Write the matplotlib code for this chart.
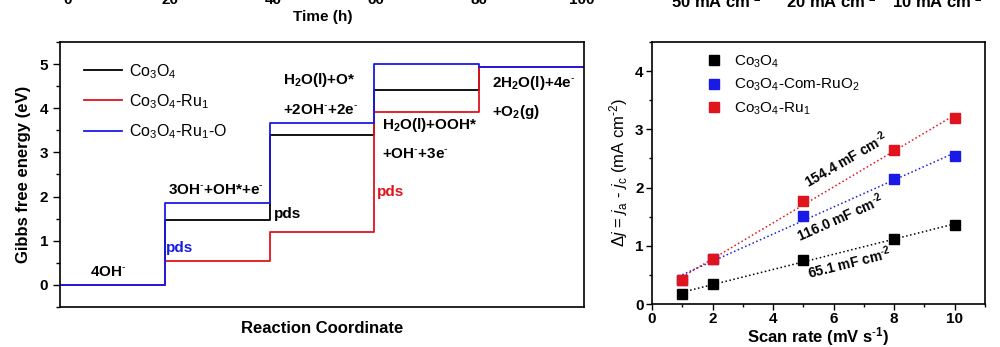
"""Gibbs free energy diagram + double-layer capacitance fit (two panels)."""

import matplotlib
matplotlib.use("Agg")
import matplotlib.pyplot as plt
import numpy as np
from matplotlib.ticker import MultipleLocator

plt.rcParams["font.family"] = ["Liberation Sans", "DejaVu Sans"]
plt.rcParams["mathtext.fontset"] = "custom"
plt.rcParams["mathtext.rm"] = "Liberation Sans"
plt.rcParams["mathtext.it"] = "Liberation Sans:italic"
plt.rcParams["mathtext.bf"] = "Liberation Sans:bold"
plt.rcParams["mathtext.default"] = "regular"

M = r"^{\text{-}}"  # small hyphen superscript, as in the original figure

# --- left panel: free energy of each OER step (eV) ---
steps = [0, 1, 2, 3, 4, 5]
g_co3o4 = [0.0, 1.47, 3.40, 4.42, 4.93]
g_ru1 = [0.0, 0.55, 1.20, 3.91, 4.93]
g_ru1_o = [0.0, 1.85, 3.67, 5.00, 4.93]
energy_series = [
    ("Co$_3$O$_4$", g_co3o4, "black"),
    ("Co$_3$O$_4$-Ru$_1$", g_ru1, "#e0141c"),
    ("Co$_3$O$_4$-Ru$_1$-O", g_ru1_o, "#1a1ae6"),
]

# --- right panel: current density difference vs scan rate ---
scan_rate = [1, 2, 5, 8, 10]
dj_co3o4 = [0.18, 0.34, 0.75, 1.12, 1.36]
dj_com_ruo2 = [0.42, 0.77, 1.52, 2.15, 2.54]
dj_ru1 = [0.42, 0.78, 1.77, 2.65, 3.20]
cdl_series = [
    ("Co$_3$O$_4$", dj_co3o4, "black", "65.1 mF cm$^{\\text{-}2}$", (6.52, 0.72), 14),
    ("Co$_3$O$_4$-Com-RuO$_2$", dj_com_ruo2, "#1a1ae6", "116.0 mF cm$^{\\text{-}2}$", (6.22, 1.49), 24),
    ("Co$_3$O$_4$-Ru$_1$", dj_ru1, "#e0141c", "154.4 mF cm$^{\\text{-}2}$", (6.41, 2.48), 30),
]

fig = plt.figure(figsize=(10, 3.47), dpi=100)
ax1 = fig.add_axes([0.060, 0.1153, 0.524, 0.7637])
ax2 = fig.add_axes([0.652, 0.1239, 0.333, 0.755])

# step diagram: horizontal level per step joined by vertical lines
for label, g, color in energy_series:
    ax1.step(steps, g + [g[-1]], where="post", color=color, lw=1.3, label=label)

ax1.set_xlim(0, 5)
ax1.set_ylim(-0.5, 5.5)
ax1.set_xticks([])
ax1.yaxis.set_major_locator(MultipleLocator(1))
ax1.yaxis.set_minor_locator(MultipleLocator(0.5))
ax1.tick_params(axis="y", which="major", direction="out", length=5, width=1, labelsize=11)
ax1.tick_params(axis="y", which="minor", direction="out", length=3, width=1)
for t in ax1.get_yticklabels():
    t.set_fontweight("bold")
ax1.set_ylabel("Gibbs free energy (eV)", fontsize=12, fontweight="bold", labelpad=6)
ax1.set_xlabel("Reaction Coordinate", fontsize=12, fontweight="bold", labelpad=10)
for s in ax1.spines.values():
    s.set_linewidth(1.2)

ax1.legend(loc="upper left", bbox_to_anchor=(0.045, 0.925), frameon=False, fontsize=11.5,
           handlelength=2.4, handletextpad=0.45, labelspacing=0.72, borderpad=0, borderaxespad=0)

txt = dict(fontsize=11, fontweight="bold", va="center", ha="left")
ax1.text(0.29, 0.30, f"4OH${M}$", **txt)
ax1.text(1.03, 2.15, f"3OH${M}$+OH*+e${M}$", **txt)
ax1.text(1.01, 0.84, "pds", color="#1a1ae6", **txt)
ax1.text(2.04, 1.61, "pds", color="black", **txt)
ax1.text(2.13, 4.64, "H$_2$O(l)+O*", **txt)
ax1.text(2.13, 3.96, f"+2OH${M}$+2e${M}$", **txt)
ax1.text(3.07, 3.62, "H$_2$O(l)+OOH*", **txt)
ax1.text(3.07, 2.96, f"+OH${M}$+3e${M}$", **txt)
ax1.text(3.02, 2.10, "pds", color="#e0141c", **txt)
ax1.text(4.12, 4.57, f"2H$_2$O(l)+4e${M}$", **txt)
ax1.text(4.12, 3.91, "+O$_2$(g)", **txt)

# capacitance: markers + dotted linear fit
x = np.array(scan_rate, dtype=float)
for label, dj, color, cdl_label, pos, rot in cdl_series:
    k, b = np.polyfit(x, dj, 1)
    ax2.plot(x, k * x + b, ls=":", color=color, lw=1.1)
    ax2.plot(x, dj, "s", color=color, ms=6.5, label=label)
    ax2.text(pos[0], pos[1], cdl_label, rotation=rot, fontsize=10, fontweight="bold",
             ha="center", va="center")

ax2.set_xlim(0, 11)
ax2.set_ylim(0, 4.5)
ax2.xaxis.set_major_locator(MultipleLocator(2))
ax2.xaxis.set_minor_locator(MultipleLocator(1))
ax2.yaxis.set_major_locator(MultipleLocator(1))
ax2.yaxis.set_minor_locator(MultipleLocator(0.5))
ax2.tick_params(which="major", direction="out", length=4, width=1, labelsize=11, pad=2)
ax2.tick_params(which="minor", direction="out", length=2.5, width=1)
for t in ax2.get_xticklabels() + ax2.get_yticklabels():
    t.set_fontweight("bold")
ax2.set_xlabel("Scan rate (mV s$^{\\text{-}1}$)", fontsize=12, fontweight="bold", labelpad=-1)
ax2.set_ylabel(r"$\Delta$$\it{j}$ = $\it{j}$$_a$ - $\it{j}$$_c$ (mA cm$^{\text{-}2}$)",
               fontsize=12, labelpad=4)
for s in ax2.spines.values():
    s.set_linewidth(1.2)
ax2.legend(loc="upper left", bbox_to_anchor=(0.163, 0.955), frameon=False, fontsize=11,
           handlelength=1.0, handletextpad=0.8, labelspacing=0.45, borderpad=0, borderaxespad=0)

# fragments of the neighbouring panels cut off at the top
for px, lab in zip([68, 170, 273, 376, 479, 582], ["0", "20", "40", "60", "80", "100"]):
    fig.text(px / 1000, 1 - 4 / 347, lab, fontsize=11, fontweight="bold",
             ha="center", va="baseline")
fig.text(0.323, 0.951, "Time (h)", fontsize=11, fontweight="bold", ha="center", va="center")
for px, lab in zip([716, 831, 937], ["50", "20", "10"]):
    fig.text(px / 1000, 1 - 7 / 347, lab + " mA cm$^{\\text{-}2}$", fontsize=12,
             fontweight="bold", ha="center", va="baseline")

fig.savefig("out.png", dpi=100)
